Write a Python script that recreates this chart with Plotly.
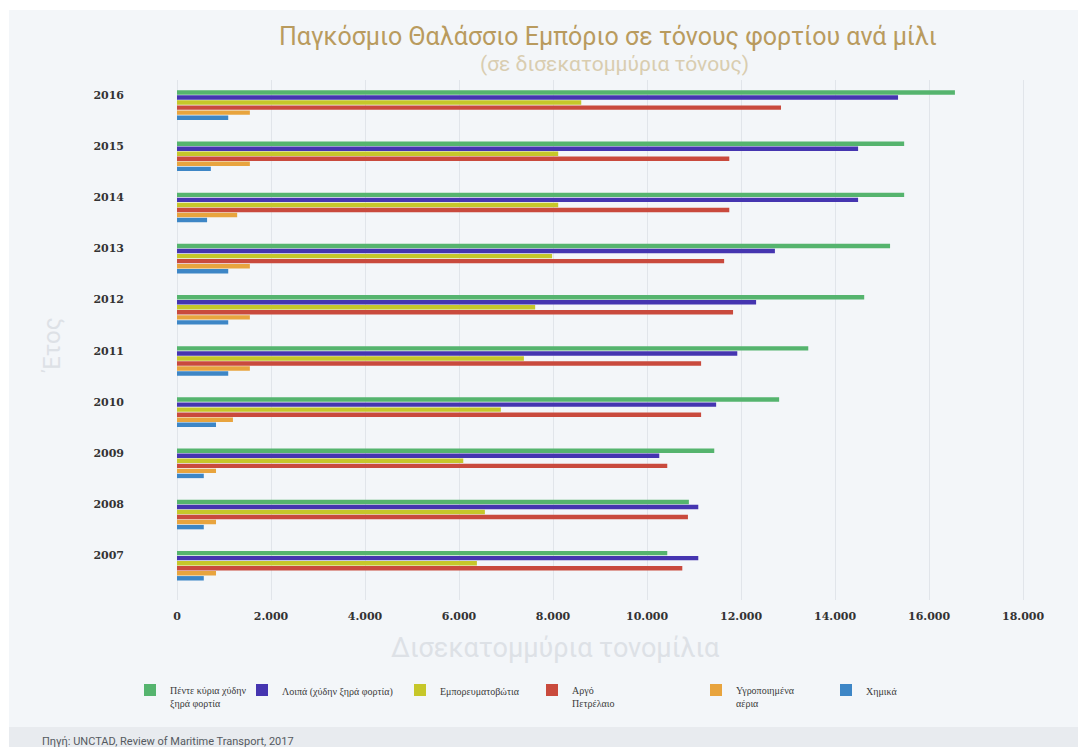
import plotly.graph_objects as go

# Years, listed from top to bottom of the chart
years = ["2016", "2015", "2014", "2013", "2012", "2011", "2010", "2009", "2008", "2007"]

# Billions of ton-miles by cargo type
five_main_bulks = [16550, 15470, 15470, 15170, 14620, 13430, 12810, 11430, 10890, 10430]
other_dry_bulk = [15340, 14490, 14490, 12720, 12320, 11920, 11470, 10260, 11090, 11090]
containers = [8600, 8110, 8110, 7980, 7620, 7380, 6890, 6090, 6550, 6380]
crude_oil = [12850, 11750, 11750, 11640, 11830, 11150, 11150, 10430, 10870, 10750]
gas = [1550, 1550, 1280, 1550, 1550, 1550, 1190, 830, 830, 830]
chemicals = [1090, 720, 640, 1090, 1090, 1090, 830, 570, 570, 570]

series_names = [
    "Πέντε κύρια χύδην<br>ξηρά φορτία",
    "Λοιπά (χύδην ξηρά φορτία)",
    "Εμπορευματοβώτια",
    "Αργό<br>Πετρέλαιο",
    "Υγροποιημένα<br>αέρια",
    "Χημικά",
]
series_values = [five_main_bulks, other_dry_bulk, containers, crude_oil, gas, chemicals]
series_colors = ["#55b46e", "#4535b0", "#c6c72a", "#c94a3d", "#e8a43e", "#3d86c6"]

x_ticks = [0, 2000, 4000, 6000, 8000, 10000, 12000, 14000, 16000, 18000]

# Plot-area geometry in pixels (used to place paper-relative decorations)
W, H = 1078, 747
ML, MR, MT, MB = 177, 38, 80, 147
PW, PH = W - ML - MR, H - MT - MB


def px_x(p):
    return (p - ML) / PW


def px_y(p):
    return (H - MB - p) / PH


positions = list(range(len(years)))
# left edge of each legend block; the entry text begins about 40px further right
legend_left_px = [130, 242, 400, 532, 696, 826]

fig = go.Figure()
for i, (name, vals, col) in enumerate(zip(series_names, series_values, series_colors)):
    lg = "legend" if i == 0 else f"legend{i + 1}"
    fig.add_trace(go.Bar(
        x=vals, y=positions, name=name, orientation="h",
        marker=dict(color=col, line=dict(width=0)),
        legend=lg,
        hovertemplate="%{x:,d}<extra></extra>",
    ))

legend_font = dict(family="Liberation Serif", size=10, color="#3a3a3a")
legends = {}
for i, lx in enumerate(legend_left_px):
    key = "legend" if i == 0 else f"legend{i + 1}"
    legends[key] = dict(
        x=px_x(lx), y=px_y(677), xanchor="left", yanchor="top",
        orientation="h", bgcolor="rgba(0,0,0,0)", font=legend_font,
        valign="top", itemclick=False,
    )

shapes = [
    # light page panel
    dict(type="rect", xref="paper", yref="paper", layer="below",
         x0=px_x(9), x1=px_x(W + 5), y0=px_y(727), y1=px_y(10),
         fillcolor="#f3f6f9", line=dict(width=0)),
    # source strip
    dict(type="rect", xref="paper", yref="paper", layer="below",
         x0=px_x(9), x1=px_x(W + 5), y0=px_y(H + 5), y1=px_y(727),
         fillcolor="#e8ebef", line=dict(width=0)),
]

annotations = [
    dict(text="Παγκόσμιο Θαλάσσιο Εμπόριο σε τόνους φορτίου ανά μίλι",
         x=px_x(608), y=px_y(36), xref="paper", yref="paper",
         showarrow=False, xanchor="center", yanchor="middle",
         font=dict(family="Roboto", size=25, color="#b99b5e")),
    dict(text="(σε δισεκατομμύρια τόνους)",
         x=px_x(614), y=px_y(64), xref="paper", yref="paper",
         showarrow=False, xanchor="center", yanchor="middle",
         font=dict(family="Roboto", size=21, color="#d9cdb0")),
    dict(text="Δισεκατομμύρια τονομίλια",
         x=px_x(555), y=px_y(648), xref="paper", yref="paper",
         showarrow=False, xanchor="center", yanchor="middle",
         font=dict(family="Roboto", size=27, color="#dde1e6")),
    dict(text="Έτος", textangle=-90,
         x=px_x(52), y=px_y(345), xref="paper", yref="paper",
         showarrow=False, xanchor="center", yanchor="middle",
         font=dict(family="Roboto", size=24, color="#dde1e6")),
    dict(text="Πηγή: UNCTAD, Review of Maritime Transport, 2017",
         x=px_x(40), y=px_y(741), xref="paper", yref="paper",
         showarrow=False, xanchor="left", yanchor="middle",
         font=dict(family="Roboto", size=11, color="#555a60")),
]

fig.update_layout(
    width=W, height=H,
    margin=dict(l=ML, r=MR, t=MT, b=MB, pad=0),
    paper_bgcolor="#ffffff",
    plot_bgcolor="rgba(0,0,0,0)",
    barmode="group", bargap=0.41, bargroupgap=0.12,
    separators=",.",
    showlegend=True,
    shapes=shapes,
    annotations=annotations,
    **legends,
)

tick_font = dict(family="DejaVu Serif", size=11, color="#333333", weight="bold")
fig.update_xaxes(
    range=[0, 18360], tickvals=x_ticks, tickformat=",d",
    showgrid=True, gridcolor="#e1e5ea", gridwidth=1,
    zeroline=True, zerolinecolor="#e1e5ea", zerolinewidth=1,
    showline=False, ticks="", ticklabelstandoff=8,
    tickfont=tick_font, fixedrange=True,
)
fig.update_yaxes(
    range=[9.67, -0.49], tickmode="array",
    tickvals=[p - 0.2 for p in positions], ticktext=years,
    showgrid=False, zeroline=False, showline=False, ticks="",
    ticklabelstandoff=52, tickfont=tick_font, fixedrange=True,
)

fig.write_html("out.html")
